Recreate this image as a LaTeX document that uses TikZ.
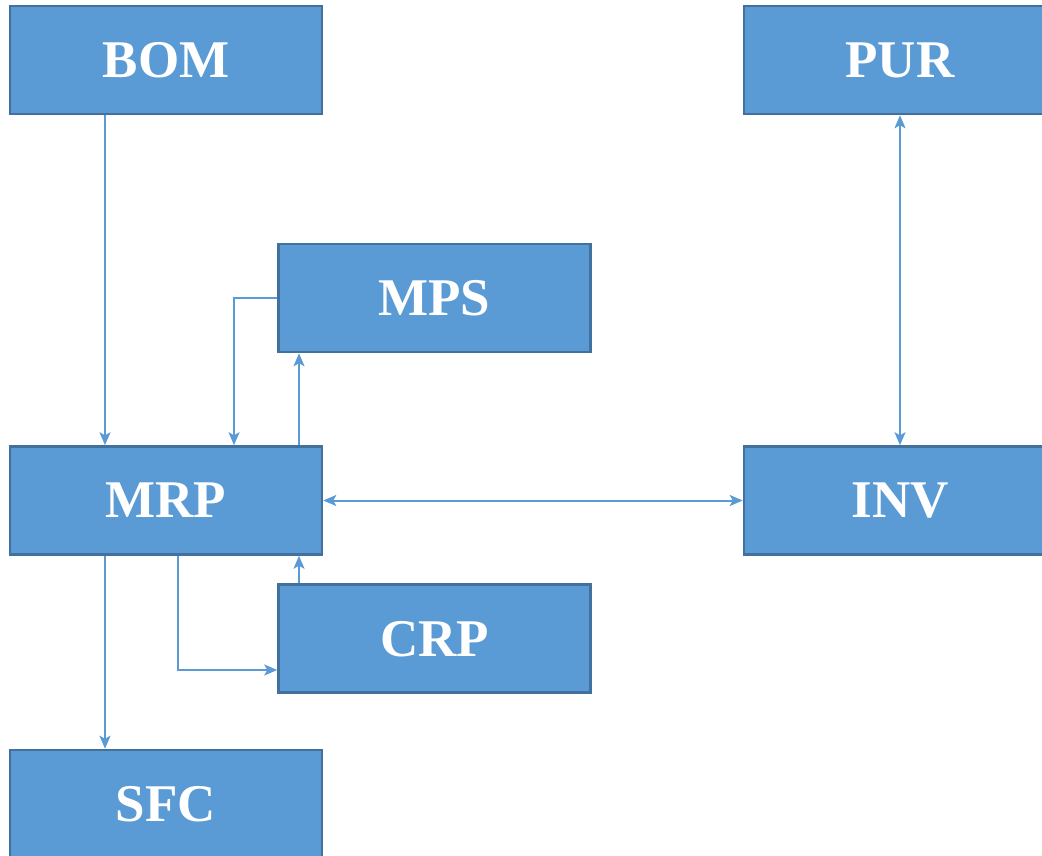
\documentclass[tikz,border=0pt]{standalone}
\usepackage{fontspec}
\setmainfont{Liberation Serif}[BoldFont={Liberation Serif Bold}]
\usetikzlibrary{arrows.meta}

\definecolor{bleu}{HTML}{5B9BD5}
\definecolor{bleufonce}{HTML}{41719C}

\tikzset{
  module/.style={draw=bleufonce,line width=2.5pt,fill=bleu,text=white,
    minimum width=312pt,minimum height=108pt,inner sep=0pt,text depth=-4pt,
    font=\fontsize{53}{56}\selectfont\bfseries},
  lien/.style={draw=bleu,line width=2pt,-{Stealth[length=13pt,width=11pt,inset=3pt]}},
  lienb/.style={lien,{Stealth[length=13pt,width=11pt,inset=3pt]}-{Stealth[length=13pt,width=11pt,inset=3pt]}}
}

\begin{document}
\begin{tikzpicture}[x=1pt,y=-1pt]
    \clip (0,0) rectangle (1042,856);
    % définition des modules
    \node[module] (BOM) at (166,60) {BOM};
    \node[module] (PUR) at (900,60) {PUR};
    \node[module] (MPS) at (434.5,298) {MPS};
    \node[module] (MRP) at (166,500.5) {MRP};
    \node[module] (INV) at (900,500.5) {INV};
    \node[module] (CRP) at (434.5,638.5) {CRP};
    \node[module] (SFC) at (166,804) {SFC};
    % tracer les liens
    \draw[lien] ([xshift=-61pt]BOM.south) -- ([xshift=-61pt]MRP.north);
    \draw[lien] (MPS.west) -| ([xshift=68pt]MRP.north);
    \draw[lien] ([xshift=133pt]MRP.north) -- ([xshift=133pt]MRP.north |- MPS.south);
    \draw[lienb] (MRP.east) -- (INV.west);
    \draw[lienb] (PUR.south) -- (INV.north);
    \draw[lien] ([xshift=12pt]MRP.south) |- ([yshift=-31.5pt]CRP.west);
    \draw[lien] ([xshift=133pt]MRP.south |- CRP.north) -- ([xshift=133pt]MRP.south);
    \draw[lien] ([xshift=-61pt]MRP.south) -- ([xshift=-61pt]SFC.north);
  \end{tikzpicture}
\end{document}
